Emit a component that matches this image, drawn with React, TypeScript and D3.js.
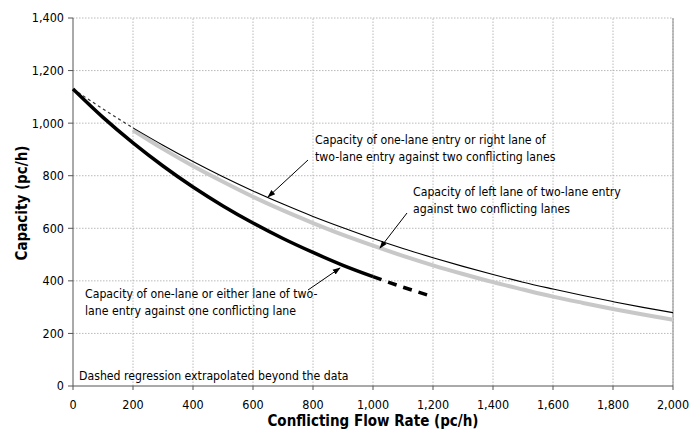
import React from 'react';
import * as d3 from 'd3';

// capacity curves, every 100 pc/h
const flowSteps = [0, 100, 200, 300, 400, 500, 600, 700, 800, 900, 1000, 1100, 1200, 1300, 1400, 1500, 1600, 1700, 1800, 1900, 2000];
const oneLaneOneConflict = [1130, 1022, 925, 837, 757, 685, 620, 561, 508, 459, 416, 376, 340];
const rightLaneTwoConflict = [1130, 1054, 982, 916, 854, 796, 742, 692, 645, 602, 561, 523, 488, 455, 424, 395, 369, 344, 321, 299, 279];
const leftLaneTwoConflict = [1130, 1048, 973, 902, 837, 777, 720, 668, 620, 575, 534, 495, 459, 426, 395, 367, 340, 316, 293, 272, 252];

const xTicks = [0, 200, 400, 600, 800, 1000, 1200, 1400, 1600, 1800, 2000];
const yTicks = [0, 200, 400, 600, 800, 1000, 1200, 1400];

const W = 690, H = 440;
const margin = {top: 18, right: 17, bottom: 54, left: 73};
const font = '"DejaVu Sans Condensed", "DejaVu Sans", sans-serif';

type Pt = {v: number; c: number};

function pts(vals: number[], from: number, to: number): Pt[] {
  return vals
    .map((c, i) => ({v: flowSteps[i], c}))
    .filter(d => d.v >= from && d.v <= to);
}

export default function App() {
  const x = d3.scaleLinear().domain([0, 2000]).range([margin.left, W - margin.right]);
  const y = d3.scaleLinear().domain([0, 1400]).range([H - margin.bottom, margin.top]);
  const line = d3
    .line<Pt>()
    .x(d => x(d.v))
    .y(d => y(d.c))
    .curve(d3.curveMonotoneX);
  const fmt = d3.format(',');

  const arrow = (x1: number, y1: number, x2: number, y2: number) => (
    <line x1={x1} y1={y1} x2={x2} y2={y2} stroke="#000" strokeWidth={1} markerEnd="url(#ah)" />
  );

  return (
    <svg width={W} height={H} style={{position: 'absolute', left: 0, top: 0, background: '#fff'}} fontFamily={font} fontStretch="condensed">
      <defs>
        <marker id="ah" viewBox="0 0 10 10" refX="9" refY="5" markerWidth="8" markerHeight="8" orient="auto">
          <path d="M0,1.5 L10,5 L0,8.5 z" fill="#000" />
        </marker>
      </defs>
      {/* grid */}
      {xTicks.slice(1).map(t => (
        <line key={'gx' + t} x1={x(t)} x2={x(t)} y1={y(0)} y2={y(1400)} stroke="#a8a8a8" strokeWidth={0.8} strokeDasharray="1.5,1.5" />
      ))}
      {yTicks.slice(1).map(t => (
        <line key={'gy' + t} x1={x(0)} x2={x(2000)} y1={y(t)} y2={y(t)} stroke="#a8a8a8" strokeWidth={0.8} strokeDasharray="1.5,1.5" />
      ))}
      <line x1={x(2000)} x2={x(2000)} y1={y(0)} y2={y(1400)} stroke="#888" strokeWidth={1} />
      {/* axes */}
      <line x1={x(0)} x2={x(0)} y1={y(0)} y2={y(1400)} stroke="#555" strokeWidth={1} />
      <line x1={x(0)} x2={x(2000)} y1={y(0)} y2={y(0)} stroke="#555" strokeWidth={1} />
      {yTicks.map(t => (
        <g key={'ty' + t}>
          <line x1={x(0) - 5} x2={x(0)} y1={y(t)} y2={y(t)} stroke="#555" />
          <text x={x(0) - 9} y={y(t)} dy="0.35em" textAnchor="end" fontSize={12.5}>{fmt(t)}</text>
        </g>
      ))}
      {xTicks.map(t => (
        <g key={'tx' + t}>
          <line x1={x(t)} x2={x(t)} y1={y(0)} y2={y(0) + 4} stroke="#555" />
          <text x={x(t)} y={y(0) + 23} textAnchor="middle" fontSize={12.5}>{fmt(t)}</text>
        </g>
      ))}
      <text x={373} y={426} textAnchor="middle" fontSize={15} fontWeight="bold">Conflicting Flow Rate (pc/h)</text>
      <text transform="translate(27,203) rotate(-90)" textAnchor="middle" fontSize={15} fontWeight="bold">Capacity (pc/h)</text>

      {/* curves */}
      <path d={line(pts(leftLaneTwoConflict, 200, 2000)) || ''} fill="none" stroke="#c8c8c8" strokeWidth={4} />
      <path d={line(pts(rightLaneTwoConflict, 0, 200)) || ''} fill="none" stroke="#333" strokeWidth={1.2} strokeDasharray="3,3" />
      <path d={line(pts(rightLaneTwoConflict, 200, 2000)) || ''} fill="none" stroke="#000" strokeWidth={1.1} />
      <path d={line(pts(oneLaneOneConflict, 0, 1000)) || ''} fill="none" stroke="#000" strokeWidth={3.5} />
      <path d={line(pts(oneLaneOneConflict, 1000, 1200)) || ''} fill="none" stroke="#000" strokeWidth={3.5} strokeDasharray="9,7" />

      {/* annotations */}
      <g fontSize={12.2}>
        <text x={315} y={144}>Capacity of one-lane entry or right lane of</text>
        <text x={315} y={161}>two-lane entry against two conflicting lanes</text>
        <text x={413} y={196}>Capacity of left lane of two-lane entry</text>
        <text x={413} y={213}>against two conflicting lanes</text>
        <text x={85} y={298}>Capacity of one-lane or either lane of two-</text>
        <text x={85} y={315}>lane entry against one conflicting lane</text>
        <text x={79} y={380}>Dashed regression extrapolated beyond the data</text>
      </g>
      {arrow(308, 160, 268, 197)}
      {arrow(407, 213, 380, 248)}
      {arrow(308, 290, 340, 268)}
    </svg>
  );
}
